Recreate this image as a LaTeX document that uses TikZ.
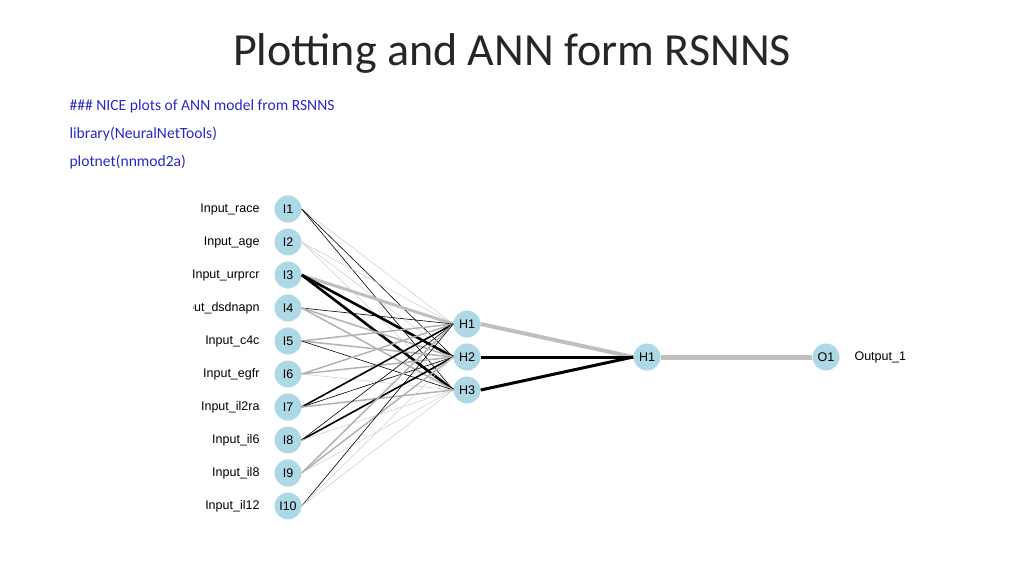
\documentclass[tikz,border=0pt]{standalone}
\usepackage{fontspec}
\setmainfont{Carlito}
\newfontfamily\arialf{Liberation Sans}
\begin{document}
\begin{tikzpicture}[x=1pt,y=-1pt,
  nd/.style={circle,fill=lightblue,minimum size=27pt,inner sep=0pt,font=\arialf\fontsize{12.5}{12.5}\selectfont},
  lab/.style={anchor=east,font=\arialf\fontsize{12.5}{12.5}\selectfont},
  code/.style={anchor=west,text=codeblue,font=\fontsize{15.6}{15.6}\selectfont},
  w0/.style={gray!40,line width=0.5pt},
  w1/.style={gray!60,line width=1.5pt},
  w2/.style={gray!50,line width=3pt},
  b0/.style={black,line width=0.6pt},
  b1/.style={black,line width=1.6pt},
  b2/.style={black,line width=2.6pt}]
\definecolor{lightblue}{RGB}{173,216,230}
\definecolor{codeblue}{RGB}{40,40,200}
\useasboundingbox (0,0) rectangle (1024,576);
\node[text=black!85] (title) at (512,53) {\fontsize{46}{46}\selectfont Plotting and ANN form RSNNS};
\node[code] (t1) at (66,106) {\#\#\# NICE plots of ANN model from RSNNS};
\node[code] (t2) at (66,134) {library(NeuralNetTools)};
\node[code] (t3) at (66,162) {plotnet(nnmod2a)};
\foreach \i in {1,...,10}{
  \node[nd] (I\i) at (288,{209+33*(\i-1)}) {I\i};
}
\node[lab] (L1) at (263,209) {Input\_race};
\node[lab] (L2) at (263,242) {Input\_age};
\node[lab] (L3) at (263,275) {Input\_urprcr};
\begin{scope}
\clip (193,290) rectangle (270,325);
\node[lab] (L4) at (263,308) {Input\_dsdnapn};
\end{scope}
\node[lab] (L5) at (263,341) {Input\_c4c};
\node[lab] (L6) at (263,374) {Input\_egfr};
\node[lab] (L7) at (263,407) {Input\_il2ra};
\node[lab] (L8) at (263,440) {Input\_il6};
\node[lab] (L9) at (263,473) {Input\_il8};
\node[lab] (L10) at (263,506) {Input\_il12};
\node[nd] (H1) at (467,324) {H1};
\node[nd] (H2) at (467,357) {H2};
\node[nd] (H3) at (467,390) {H3};
\node[nd] (G1) at (647,357) {H1};
\node[nd] (O1) at (826,357) {O1};
\node[anchor=west,font=\arialf\fontsize{12.5}{12.5}\selectfont] (out) at (851,357) {Output\_1};
\foreach \a/\s/\t/\u in {1/w0/b0/b0,2/w0/w0/w0,3/w2/b2/b2,4/b0/w1/w1,5/w1/w1/b0,6/w1/w1/w0,7/b1/b0/w1,8/b0/b1/w0,9/w1/w1/w0,10/b0/w0/w0}{
  \draw[\s] (I\a.east) -- (H1.west);
  \draw[\t] (I\a.east) -- (H2.west);
  \draw[\u] (I\a.east) -- (H3.west);
}
\draw[w2,line width=4pt] (H1.east) -- (G1.west);
\draw[b2,line width=3pt] (H2.east) -- (G1.west);
\draw[b2,line width=3pt] (H3.east) -- (G1.west);
\draw[w2,line width=5pt] (G1.east) -- (O1.west);
\end{tikzpicture}
\end{document}
